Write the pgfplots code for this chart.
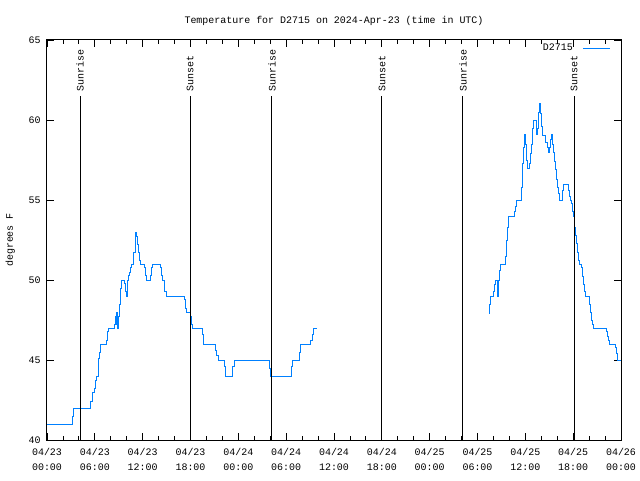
\documentclass[border=0pt]{standalone}
\usepackage{fontspec}
\setmainfont{Liberation Mono}
\usepackage{pgfplots}
\pgfplotsset{compat=1.18}
\definecolor{tblue}{RGB}{0,128,255}
\begin{document}
\fontsize{10}{12}\selectfont
\begin{tikzpicture}
\begin{axis}[
  scale only axis, width=574bp, height=400bp,
  at={(0,0)}, anchor=south west,
  xmin=0, xmax=72, ymin=40, ymax=65,
  xtick={0,6,...,72},
  xticklabels={{04/23\\00:00},{04/23\\06:00},{04/23\\12:00},{04/23\\18:00},{04/24\\00:00},{04/24\\06:00},{04/24\\12:00},{04/24\\18:00},{04/25\\00:00},{04/25\\06:00},{04/25\\12:00},{04/25\\18:00},{04/26\\00:00}},
  xticklabel style={align=center, font=\fontsize{10}{15}\selectfont, yshift=-5bp},
  yticklabel style={xshift=-3bp},
  minor x tick num=2,
  ytick={40,45,...,65},
  tick align=inside,
  major tick length=7bp, minor tick length=4bp,
  tick style={black, line width=0.8bp},
  axis line style={line width=1bp},
  title={Temperature for D2715 on 2024-Apr-23 (time in UTC)},
  title style={yshift=5bp},
  ylabel={degrees F},
  ylabel style={at={(axis description cs:-0.064,0.5)}, anchor=center},
  /pgf/number format/assume math mode=true,
  legend style={draw=none, fill=none, at={(1,1)}, anchor=north east, xshift=-9bp, yshift=-1bp, inner sep=1bp},
  legend plot pos=right,
  legend cell align=right,
  legend image code/.code={\path (0bp,0bp); \draw[#1] (8bp,0bp) -- (35bp,0bp);},
]
\addplot[tblue, line width=1bp, const plot, no marks] coordinates {
(0,41.0) (3.17,41.5) (3.30,42.0) (5.43,42.4) (5.68,43.0) (5.90,43.2) (6.11,43.75) (6.23,44.0) (6.44,45.1) (6.56,45.5) (6.65,45.8) (6.77,46.0) (7.49,46.25) (7.61,46.8) (7.69,47.0) (8.44,47.25) (8.62,47.7) (8.69,47.25) (8.74,48.0) (8.87,47.0) (8.94,47.7) (9.12,48.5) (9.24,49.5) (9.37,50.0) (9.78,49.8) (9.87,49.3) (9.95,49.0) (10.04,49.8) (10.12,50.0) (10.25,50.3) (10.37,50.5) (10.50,50.8) (10.62,51.0) (10.83,51.7) (11.04,52.5) (11.16,53.0) (11.25,52.7) (11.33,52.2) (11.45,51.7) (11.58,51.25) (11.67,51.0) (12.23,50.8) (12.33,50.3) (12.46,50.0) (12.96,50.3) (13.08,50.8) (13.21,51.0) (14.26,50.8) (14.39,50.3) (14.51,50.0) (14.68,49.7) (14.80,49.3) (14.93,49.0) (17.22,48.8) (17.35,48.2) (17.47,48.0) (17.94,47.7) (18.15,47.25) (18.23,47.0) (19.48,46.6) (19.61,46.25) (19.69,46.0) (21.16,45.6) (21.32,45.3) (21.49,45.0) (22.24,44.6) (22.42,44.0) (23.24,44.6) (23.50,45.0) (27.89,44.5) (28.06,44.0) (30.61,44.6) (30.82,45.0) (31.65,45.5) (31.82,46.0) (33.08,46.25) (33.24,46.6) (33.41,47.0) (33.83,47.0)
};
\addlegendentry{D2715}
\addplot[tblue, line width=1bp, const plot, no marks, forget plot] coordinates {
(55.45,47.9) (55.50,48.5) (55.61,49.0) (55.98,49.3) (56.11,49.7) (56.20,50.0) (56.54,49.0) (56.66,50.0) (56.82,50.6) (56.91,51.0) (57.49,51.5) (57.67,52.5) (57.79,53.3) (57.95,54.0) (58.62,54.3) (58.75,54.6) (58.92,55.0) (59.55,55.8) (59.62,57.3) (59.75,58.3) (59.84,58.8) (59.92,59.1) (60.00,58.5) (60.12,57.5) (60.21,57.0) (60.55,57.3) (60.67,57.9) (60.80,58.5) (60.88,59.5) (61.00,60.0) (61.34,59.6) (61.43,59.1) (61.50,59.5) (61.63,60.5) (61.76,61.0) (61.93,60.4) (62.01,59.6) (62.09,59.06) (62.59,58.6) (62.72,58.3) (62.85,58.0) (63.06,58.3) (63.18,58.8) (63.26,59.1) (63.35,58.5) (63.51,58.0) (63.64,57.4) (63.76,56.9) (63.89,56.3) (64.01,55.8) (64.14,55.4) (64.26,55.0) (64.60,55.6) (64.73,56.0) (65.39,55.6) (65.52,55.2) (65.64,55.0) (65.77,54.8) (65.89,54.3) (66.02,54.0) (66.15,53.3) (66.27,52.8) (66.40,52.3) (66.48,51.7) (66.61,51.25) (66.77,51.0) (67.07,50.8) (67.15,50.2) (67.27,49.7) (67.40,49.27) (67.53,49.0) (68.03,48.5) (68.16,48.0) (68.28,47.5) (68.41,47.25) (68.53,47.0) (70.12,46.8) (70.25,46.5) (70.37,46.25) (70.50,46.0) (71.34,45.8) (71.47,45.4) (71.59,45.0) (72.0,45.0)
};
\addplot[black, line width=1bp, sharp plot, no marks, forget plot] coordinates {(4.14,40) (4.14,61.5)};
\addplot[black, line width=1bp, sharp plot, no marks, forget plot] coordinates {(17.94,40) (17.94,61.5)};
\addplot[black, line width=1bp, sharp plot, no marks, forget plot] coordinates {(28.22,40) (28.22,61.5)};
\addplot[black, line width=1bp, sharp plot, no marks, forget plot] coordinates {(42.02,40) (42.02,61.5)};
\addplot[black, line width=1bp, sharp plot, no marks, forget plot] coordinates {(52.18,40) (52.18,61.5)};
\addplot[black, line width=1bp, sharp plot, no marks, forget plot] coordinates {(66.11,40) (66.11,61.5)};
\node[rotate=90, anchor=west, inner sep=1bp] at (axis cs:4.14,61.7) {Sunrise};
\node[rotate=90, anchor=west, inner sep=1bp] at (axis cs:17.94,61.7) {Sunset};
\node[rotate=90, anchor=west, inner sep=1bp] at (axis cs:28.22,61.7) {Sunrise};
\node[rotate=90, anchor=west, inner sep=1bp] at (axis cs:42.02,61.7) {Sunset};
\node[rotate=90, anchor=west, inner sep=1bp] at (axis cs:52.18,61.7) {Sunrise};
\node[rotate=90, anchor=west, inner sep=1bp] at (axis cs:66.11,61.7) {Sunset};
\end{axis}
\pgfresetboundingbox
\path ([shift={(-47bp,-40bp)}]current axis.south west) rectangle ([shift={(19bp,40bp)}]current axis.north east);
\end{tikzpicture}
\end{document}
